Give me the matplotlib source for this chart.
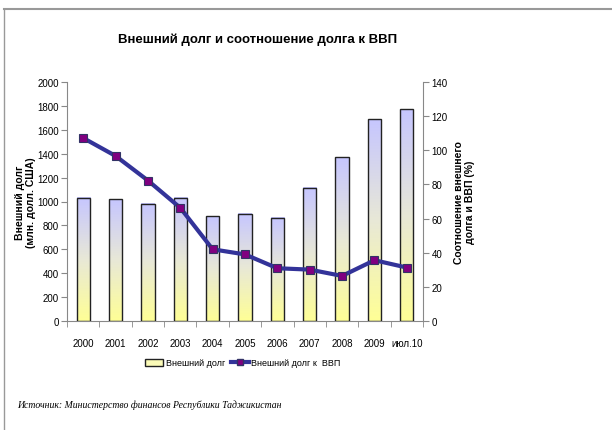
import numpy as np
import matplotlib
matplotlib.use("Agg")
import matplotlib.pyplot as plt
from matplotlib.lines import Line2D
from matplotlib.patches import Patch

# data
categories = ["2000", "2001", "2002", "2003", "2004", "2005",
              "2006", "2007", "2008", "2009", "июл.10"]
debt = [1033, 1018, 982, 1033, 876, 899, 865, 1113, 1371, 1689, 1772]
debt_to_gdp = [107.2, 96.7, 82.3, 66.3, 42.0, 39.0, 30.9, 30.1, 26.4, 35.6, 31.3]
left_ticks = list(range(0, 2001, 200))
right_ticks = list(range(0, 141, 20))

plt.rcParams["font.family"] = ["Liberation Sans", "DejaVu Sans"]

fig = plt.figure(figsize=(6.12, 4.31), dpi=100)
ax1 = fig.add_axes([67 / 612, 1 - 322 / 431, 356 / 612, 239 / 431])
ax2 = ax1.twinx()

x = np.arange(len(categories))
bar_w = 0.41

# vertical gradient: lavender top -> light yellow bottom
top_c = np.array([198, 198, 255]) / 255
mid_c = np.array([232, 232, 215]) / 255
bot_c = np.array([255, 255, 150]) / 255
t = np.linspace(0, 1, 256)[:, None]
grad = np.where(t < 0.5,
                top_c + (mid_c - top_c) * (t / 0.5),
                mid_c + (bot_c - mid_c) * ((t - 0.5) / 0.5))
grad = grad[:, None, :]

bars = ax1.bar(x, debt, width=bar_w, facecolor="none", edgecolor="#222222",
               linewidth=1.0, zorder=3)
for b in bars:
    x0, w, h = b.get_x(), b.get_width(), b.get_height()
    ax1.imshow(grad, extent=[x0, x0 + w, 0, h], aspect="auto", zorder=2)

ax1.set_xlim(-0.5, len(categories) - 0.5)
ax1.set_ylim(0, 2000)
ax1.set_yticks(left_ticks)
ax1.set_xticks(x)
ax1.set_xticklabels(categories)
ax1.set_xticks(np.arange(-0.5, len(categories), 1.0), minor=True)
ax1.tick_params(axis="x", which="major", length=0, pad=12, labelsize=7)
ax1.tick_params(axis="x", which="minor", length=4, color="#888888")
ax1.tick_params(axis="y", length=4, color="#888888", labelsize=7, pad=2)

ax2.plot(x, debt_to_gdp, color="#333399", linewidth=3, marker="s",
         markersize=6, markerfacecolor="#800080", markeredgecolor="#333366",
         markeredgewidth=0.8, zorder=4)
ax2.set_ylim(0, 140)
ax2.set_yticks(right_ticks)
ax2.tick_params(axis="y", length=4, color="#888888", labelsize=7, pad=2)

for ax in (ax1, ax2):
    ax.spines["top"].set_visible(False)
    for s in ("left", "right", "bottom"):
        ax.spines[s].set_color("#888888")
ax1.spines["right"].set_visible(False)
ax2.spines["left"].set_visible(False)
ax2.spines["bottom"].set_visible(False)

ax1.set_ylabel("Внешний долг\n(млн. долл. США)", fontsize=7.5,
               fontweight="bold", labelpad=1, linespacing=1.1)
ax2.set_ylabel("Соотношение внешнего\nдолга и ВВП (%)", fontsize=7.5,
               fontweight="bold", labelpad=5, linespacing=1.1)

fig.text(258 / 612, 1 - 40 / 431, "Внешний долг и соотношение долга к ВВП",
         ha="center", va="center", fontsize=9.5, fontweight="bold")

handles = [
    Patch(facecolor="#fbfbb8", edgecolor="#222222", linewidth=1.0),
    Line2D([0], [0], color="#333399", linewidth=3, marker="s", markersize=5,
           markerfacecolor="#800080", markeredgecolor="#333366"),
]
fig.legend(handles, ["Внешний долг", "Внешний долг к  ВВП"],
           loc="center", bbox_to_anchor=(243 / 612, 1 - 364 / 431), ncol=2,
           frameon=False, fontsize=6.5, handlelength=2.0, columnspacing=0.6,
           handletextpad=0.3)

fig.text(17 / 612, 1 - 405 / 431,
         "Источник: Министерство финансов Республики Таджикистан",
         ha="left", va="center", fontsize=7, style="italic",
         family="Liberation Serif")

# page frame
fig.add_artist(Line2D([4 / 612, 1], [1 - 10 / 431, 1 - 10 / 431],
                      transform=fig.transFigure, color="#999999", linewidth=1.5))
fig.add_artist(Line2D([4 / 612, 4 / 612], [0, 1 - 10 / 431],
                      transform=fig.transFigure, color="#999999", linewidth=1))

fig.savefig("out.png", dpi=100)
